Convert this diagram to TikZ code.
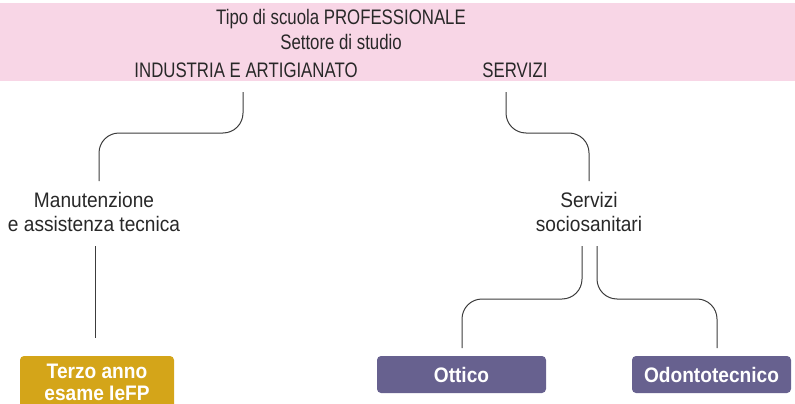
\documentclass[tikz,border=0pt]{standalone}
\usepackage{fontspec}
\setmainfont{Liberation Sans}[FakeStretch=0.80]
\newfontfamily\widerfont{Liberation Sans}[FakeStretch=0.91]
\definecolor{bandpink}{RGB}{248,214,230}
\definecolor{boxgold}{RGB}{212,165,25}
\definecolor{boxpurple}{RGB}{103,97,143}
\definecolor{txtgrey}{RGB}{40,40,40}
\definecolor{linegrey}{RGB}{60,60,60}
\tikzset{
  lbl/.style={inner sep=0pt, text=txtgrey, font=\fontsize{21}{23}\selectfont, align=center},
  lowlbl/.style={inner sep=0pt, text=txtgrey, font=\widerfont\fontsize{21}{24}\selectfont, align=center},
  conn/.style={draw=linegrey, line width=1pt, rounded corners=20pt},
  boxlbl/.style={rounded corners=4pt, text=white, font=\widerfont\bfseries\fontsize{21}{22}\selectfont, align=center, inner sep=0pt}
}
\begin{document}
\begin{tikzpicture}[x=1pt,y=-1pt]
\useasboundingbox (0,0) rectangle (795,404);
\fill[bandpink] (0,3) rectangle (795,81);
\node[lbl] (tipo) at (341,19) {Tipo di scuola PROFESSIONALE};
\node[lbl] (sett) at (341,42) {Settore di studio};
\node[lbl] (ind) at (246,70) {INDUSTRIA E ARTIGIANATO};
\node[lbl] (serv) at (515,70) {SERVIZI};
\node[lowlbl] (man) at (94,212) {Manutenzione\\e assistenza tecnica};
\node[lowlbl] (soc) at (589,212) {Servizi\\sociosanitari};
\fill[boxgold, rounded corners=4pt] (20,356) rectangle (174,412);
\node[boxlbl] (terzo) at (97,382) {Terzo anno\\esame IeFP};
\node[boxlbl, fill=boxpurple, minimum width=169pt, minimum height=37pt] (ott) at (461.5,374.5) {Ottico};
\node[boxlbl, fill=boxpurple, minimum width=159pt, minimum height=37pt] (odo) at (711.5,374.5) {Odontotecnico};
\coordinate (h1) at (0,133);
\coordinate (h2) at (0,299);
\coordinate (s1) at (243,92);
\coordinate (s2) at (506,92);
\coordinate (e1) at (99,181);
\coordinate (e2) at (589,181);
\coordinate (s3) at (95,246);
\coordinate (e3) at (95,338);
\coordinate (s4) at (582,246);
\coordinate (s5) at (597,246);
\coordinate (e4) at (462,348);
\coordinate (e5) at (717,348);
\draw[conn] (s1) -- (s1 |- h1) -| (e1);
\draw[conn] (s2) -- (s2 |- h1) -| (e2);
\draw[conn] (s3) -- (e3);
\draw[conn] (s4) -- (s4 |- h2) -| (e4);
\draw[conn] (s5) -- (s5 |- h2) -| (e5);
\end{tikzpicture}
\end{document}
